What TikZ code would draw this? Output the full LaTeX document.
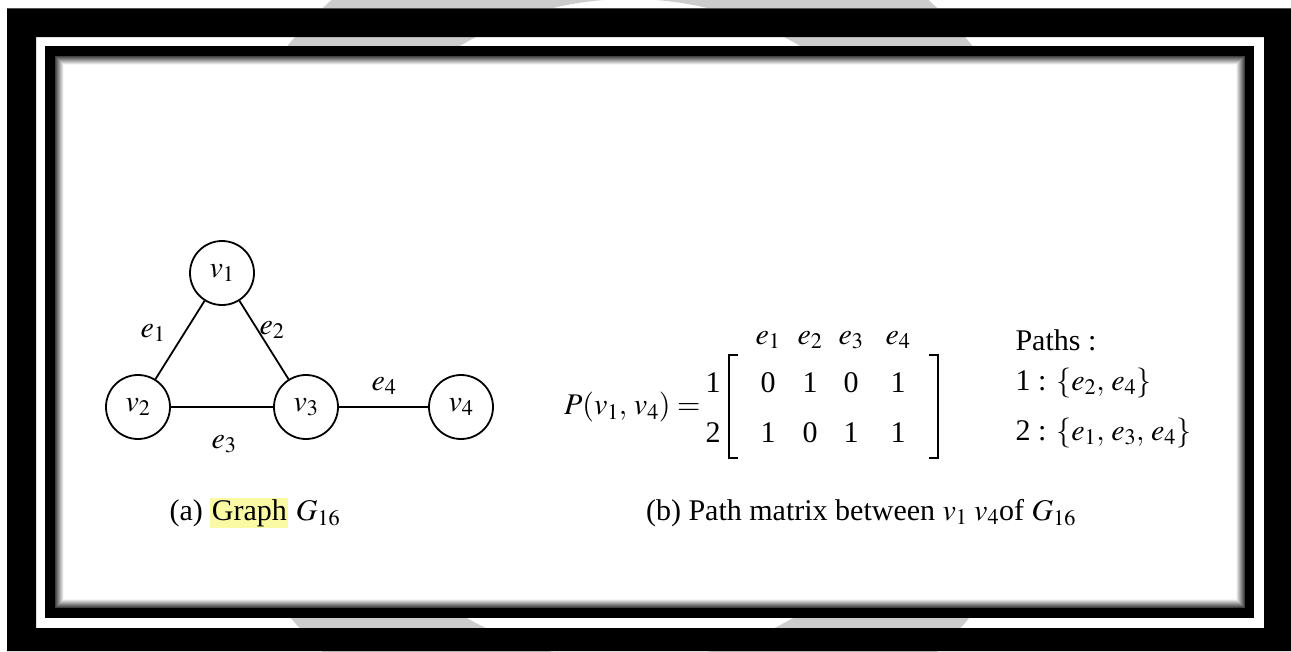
\documentclass[tikz,border=0pt]{standalone}
\usepackage{mathptmx}
\usepackage{fontspec}
\setmainfont{Liberation Serif}
\usetikzlibrary{positioning}
\definecolor{wmgrey}{RGB}{204,204,204}
\definecolor{hlyellow}{RGB}{250,250,165}
\setlength{\fboxsep}{1.5pt}

\begin{document}
\begin{tikzpicture}[x=1pt, y=-1pt,
    font=\fontsize{30}{34}\selectfont,
    vert/.style={draw, circle, line width=1.8pt, minimum size=64pt, inner sep=0pt},
    edge/.style={line width=1.8pt},
    brack/.style={line width=2.2pt}]
  \useasboundingbox (0,0) rectangle (1291,651);
  \fill[white] (0,0) rectangle (1291,651);

  % watermark, seen only in the gaps of the frame
  \fill[wmgrey, even odd rule] (630,330) circle (445) (630,330) circle (331);

  % outer and inner frame
  \draw[gray, line width=1pt] (7,8) -- (1291,8);
  \fill[black, even odd rule] (7,8.5) rectangle (1291,651) (36,37) rectangle (1264,628);
  \fill[black] (45,46) rectangle (1254,618);
  \fill[white] (55,56) rectangle (1245,608);
  \foreach \i [evaluate=\i as \g using 75-9*\i] in {0,...,8}
    \draw[black!\g, line width=1pt] (55.5+\i,56.5+\i) rectangle (1244.5-\i,607.5-\i);

  % Graph G16
  \node[vert] (v1) at (222,273) {$v_1$};
  \node[vert] (v2) at (138,407) {$v_2$};
  \node[vert] (v3) at (306,407) {$v_3$};
  \node[vert] (v4) at (461,407) {$v_4$};
  \draw[edge] (v1) -- (v2);
  \draw[edge] (v1) -- (v3);
  \draw[edge] (v2) -- (v3);
  \draw[edge] (v3) -- (v4);
  \node (e1) at (153,333) {$e_1$};
  \node (e2) at (272,330) {$e_2$};
  \node (e3) at (224,444) {$e_3$};
  \node (e4) at (384,386) {$e_4$};

  % Path matrix
  \node[anchor=east] (pv) at (704,407) {$P(v_1,\, v_4) =$};
  \node (row1) at (713,383) {1};
  \node (row2) at (713,433) {2};
  \foreach \x/\a/\b [count=\i] in {768/0/1, 810/1/0, 851/0/1, 898/1/1} {
    \node (h\i) at (\x,340) {$e_\i$};
    \node (m1\i) at (\x,383) {\a};
    \node (m2\i) at (\x,433) {\b};
  }
  \draw[brack] (738,355) -- (729,355) -- (729,458) -- (738,458);
  \draw[brack] (929,355) -- (938,355) -- (938,458) -- (929,458);

  % Paths
  \node[anchor=west] (paths) at (1012,340) {Paths :};
  \node[anchor=west] (p1) at (1012,383) {1 : $\{e_2,\, e_4\}$};
  \node[anchor=west] (p2) at (1012,433) {2 : $\{e_1,\, e_3,\, e_4\}$};

  % Captions
  \node (capa) at (255,513) {(a) \colorbox{hlyellow}{Graph} $G_{16}$};
  \node (capb) at (861,513) {(b) Path matrix between $v_1\;v_4$of $G_{16}$};
\end{tikzpicture}
\end{document}
